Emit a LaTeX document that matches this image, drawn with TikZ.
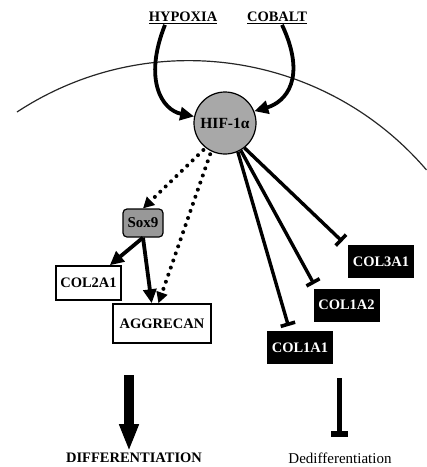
\documentclass[tikz,border=0pt]{standalone}
\usepackage{fontspec}
\setmainfont{Liberation Serif}
\usetikzlibrary{arrows.meta}
\definecolor{hifgray}{RGB}{168,168,168}
\definecolor{soxgray}{RGB}{152,152,152}
\tikzset{
  lbl/.style={font=\fontsize{14.5}{17}\selectfont\bfseries, inner sep=1pt},
  genebox/.style={
    draw, line width=1.5pt, fill=white,
    minimum width=#1, minimum height=34pt, inner sep=0pt,
    font=\fontsize{14.5}{17}\selectfont\bfseries,
  },
  genebox/.default=65pt,
  collbox/.style={
    fill=black, text=white, minimum width=66pt, minimum height=33pt,
    inner sep=0pt, font=\fontsize{14.5}{17}\selectfont\bfseries,
  },
  act/.style={-{Triangle[length=14pt, width=13pt]}, line width=3.8pt},
  inh/.style={-{Bar[width=15pt, line width=3.6pt]}, line width=3.4pt, shorten >=5pt},
  dots/.style={-{Triangle[length=11pt, width=11pt]}, line width=4pt,
    dash pattern=on 0pt off 7.5pt, line cap=round, shorten <=3pt},
  membrane/.style={line width=1.2pt, draw=black!85},
}

\begin{document}
\begin{tikzpicture}[x=1pt,y=-1pt]
  \useasboundingbox (0,0) rectangle (427,467);

  % cell membrane
  \draw[membrane] (17,112) arc[start angle=-123.3, end angle=-40.6, radius=313];

  \node[lbl, anchor=base] (hypoxia) at (183,21.5) {\underline{HYPOXIA}};
  \node[lbl, anchor=base] (cobalt) at (277,21.5) {\underline{COBALT}};

  \node[circle, draw, line width=1.2pt, fill=hifgray, minimum size=62pt, inner sep=0pt,
    font=\fontsize{15.5}{18}\selectfont\bfseries] (hif) at (225,123) {HIF-1α};

  \draw[act] ([xshift=-18pt]hypoxia.south) .. controls (143,80) and (162,110) .. (hif.168);
  \draw[act] ([xshift=5pt]cobalt.south) .. controls (307,78) and (286,102) .. (hif.22);

  \node[draw, line width=1.2pt, fill=soxgray, rounded corners=4pt, minimum width=40pt,
    minimum height=28pt, inner sep=0pt, font=\fontsize{15}{18}\selectfont\bfseries]
    (sox9) at (143,223) {Sox9};
  \node[genebox] (col2a1) at (88.5,283) {COL2A1};
  \node[genebox=98pt, minimum height=39pt] (aggrecan) at (162,323.5) {AGGRECAN};

  \draw[dots] (hif.232) -- (sox9.north);
  \draw[dots] (hif.244) -- (aggrecan.100);
  \draw[act] (sox9.south) -- (col2a1);
  \draw[act] (sox9.south) -- (aggrecan.117);

  \node[collbox] (col3a1) at (381,261.5) {COL3A1};
  \node[collbox] (col1a2) at (346.5,305) {COL1A2};
  \node[collbox] (col1a1) at (300,347.5) {COL1A1};

  \draw[inh] (hif.-66) -- ([xshift=23pt]col1a1.north west);
  \draw[inh] (hif.-60) -- ([xshift=3pt]col1a2.north west);
  \draw[inh] (hif.-52) -- ([xshift=-2pt]col3a1.north west);

  \node[lbl, anchor=base] (diff) at (134,462) {DIFFERENTIATION};
  \node[font=\fontsize{15}{18}\selectfont, inner sep=1pt, anchor=base] (dediff) at (340,463) {Dedifferentiation};
  \coordinate (difftop) at (129,375);
  \coordinate (dedifftop) at (339,378);
  \draw[-{Triangle[length=27pt, width=18pt]}, line width=10pt] (difftop) -- (diff.north -| difftop);
  \draw[-{Bar[width=17pt, line width=6pt]}, line width=5pt, shorten >=14pt] (dedifftop) -- (dediff.north -| dedifftop);
\end{tikzpicture}
\end{document}
